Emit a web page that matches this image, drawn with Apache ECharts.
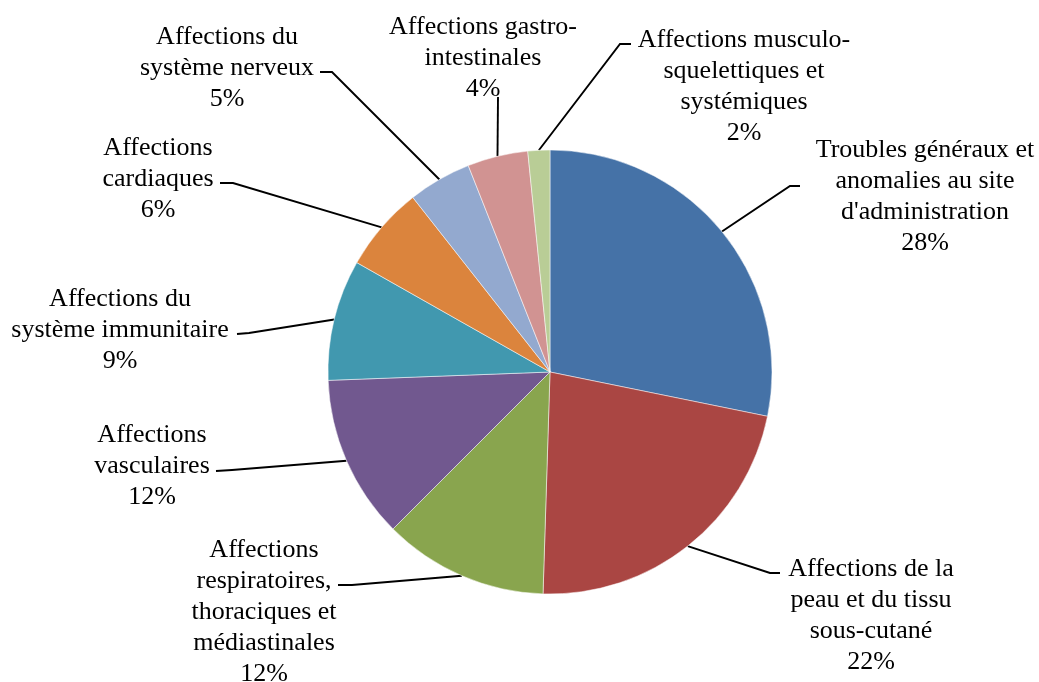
<!DOCTYPE html>
<html>
<head>
<meta charset="utf-8">
<script src="https://cdn.jsdelivr.net/npm/echarts@6/dist/echarts.min.js"></script>
<style>
    html, body { margin: 0; background: #fff; }
    #chart { width: 1039px; height: 682px; }
</style>
</head>
<body>
<div id="chart"></div>
<script>
    // categories, clockwise from 12 o'clock
    var categories = [
        'Troubles généraux et\nanomalies au site\nd\'administration',
        'Affections de la\npeau et du tissu\nsous-cutané',
        'Affections\nrespiratoires,\nthoraciques et\nmédiastinales',
        'Affections\nvasculaires',
        'Affections du\nsystème immunitaire',
        'Affections\ncardiaques',
        'Affections du\nsystème nerveux',
        'Affections gastro-\nintestinales',
        'Affections musculo-\nsquelettiques et\nsystémiques'
    ];
    var values = [28.2, 22.3, 12.0, 11.9, 8.8, 6.2, 4.6, 4.4, 1.6];
    var colors = ['#4572A7', '#AA4643', '#89A54E', '#71588F', '#4198AF', '#DB843D', '#93A9CF', '#D19392', '#B9CD96'];

    // label placement (text block centre, leader elbow, leader end)
    var labelCenters = [[925, 197], [871, 616], [264, 612], [152, 466], [120, 330], [158, 179], [227, 68], [483, 58], [744, 87]];
    var leaderElbows = [[790, 186], [770, 573], [352, 585], [232, 470], [249, 333], [233, 183], [332, 72], [498, 97], [620, 44]];
    var leaderEnds = [[800, 186], [780, 573], [338, 585], [216, 471], [237, 334], [220, 183], [320, 72], [498, 97], [631, 44]];

    var chart = echarts.init(document.getElementById('chart'), null, { renderer: 'canvas' });

    var option = {
        animation: false,
        color: colors,
        series: [{
            type: 'pie',
            center: [550, 372],
            radius: 222,
            startAngle: 90,
            clockwise: true,
            avoidLabelOverlap: false,
            itemStyle: {
                borderColor: '#fff',
                borderWidth: 0.5
            },
            label: {
                show: true,
                position: 'outside',
                fontFamily: 'Liberation Serif',
                fontSize: 26,
                lineHeight: 31,
                color: '#000',
                formatter: function (p) {
                    return p.name + '\n' + Math.round(p.percent) + '%';
                }
            },
            labelLine: {
                show: true,
                smooth: false,
                lineStyle: { color: '#000', width: 1.9 }
            },
            labelLayout: function (params) {
                var i = params.dataIndex;
                var start = params.labelLinePoints[0];
                return {
                    x: labelCenters[i][0],
                    y: labelCenters[i][1],
                    align: 'center',
                    verticalAlign: 'middle',
                    labelLinePoints: [start, leaderElbows[i], leaderEnds[i]]
                };
            },
            data: categories.map(function (c, i) {
                return { name: c, value: values[i] };
            })
        }]
    };

    chart.setOption(option);
</script>
</body>
</html>
